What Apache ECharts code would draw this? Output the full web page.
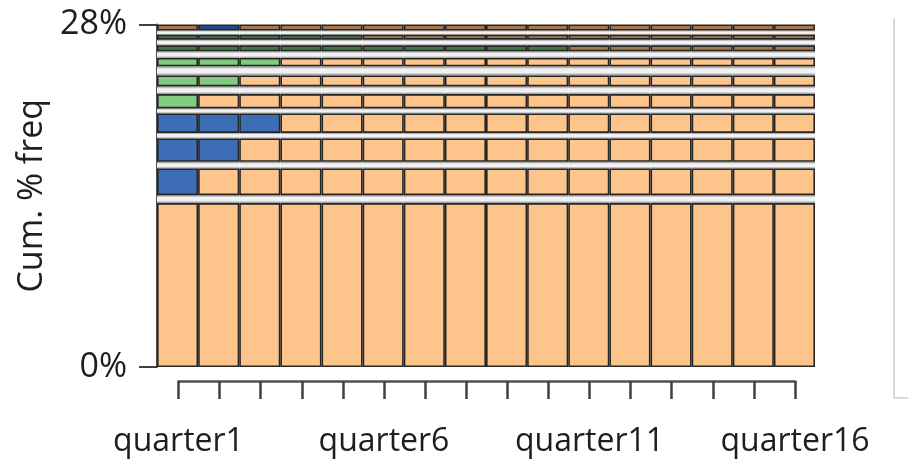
<!DOCTYPE html>
<html>
<head>
<meta charset="utf-8">
<script src="https://cdn.jsdelivr.net/npm/echarts@6/dist/echarts.min.js"></script>
<style>
  html, body { margin: 0; padding: 0; background: #fff; }
  #chart { width: 908px; height: 462px; }
</style>
</head>
<body>
<div id="chart"></div>
<script>
// ---- data ----
const quarters = Array.from({ length: 16 }, (_, i) => 'quarter' + (i + 1));
// height (in cum. % freq) of each level, bottom to top
const levelValues = [13.4, 2.18, 1.91, 1.59, 1.17, 0.9, 0.68, 0.49, 0.41, 0.5];
// separator band above each level (bottom to top)
const separatorValues = [0.65, 0.54, 0.46, 0.41, 0.63, 0.74, 0.55, 0.46, 0.33];
// class of each cell per level: o = orange, b = blue, g = light green, d = dark green, r = brown, n = navy
const levelClasses = [
  'oooooooooooooooo',
  'booooooooooooooo',
  'bboooooooooooooo',
  'bbbooooooooooooo',
  'gooooooooooooooo',
  'ggoooooooooooooo',
  'gggooooooooooooo',
  'ddddddddddrrrrrr',
  'dddddrrrrrrrrrrr',
  'rnrrrrrrrrrrrrrr'
];
const yTicks = [0, 28];

// ---- style ----
const classColors = {
  o: '#FDC48B',
  b: '#3D6DB5',
  g: '#80CB80',
  d: '#3F7B47',
  r: '#A8774E',
  n: '#1F4A86'
};
const sepColor = {
  type: 'linear', x: 0, y: 0, x2: 0, y2: 1,
  colorStops: [
    { offset: 0, color: '#8c8c8c' },
    { offset: 0.3, color: '#f2f2f2' },
    { offset: 0.7, color: '#f2f2f2' },
    { offset: 1, color: '#8c8c8c' }
  ]
};
const FONT = 'Open Sans';

const series = [];
levelValues.forEach((v, li) => {
  series.push({
    type: 'bar',
    stack: 'all',
    name: 'level' + (li + 1),
    z: 3,
    barCategoryGap: '0%',
    silent: true,
    data: quarters.map((q, qi) => ({
      value: v,
      itemStyle: { color: classColors[levelClasses[li][qi]] }
    })),
    itemStyle: { borderColor: '#262626', borderWidth: 1.6 }
  });
  if (li < separatorValues.length) {
    series.push({
      type: 'bar',
      stack: 'all',
      name: 'sep' + (li + 1),
      z: 2,
      barCategoryGap: '0%',
      silent: true,
      data: quarters.map(() => separatorValues[li]),
      itemStyle: { color: sepColor, borderWidth: 0 }
    });
  }
});

const chart = echarts.init(document.getElementById('chart'));
chart.setOption({
  animation: false,
  backgroundColor: '#ffffff',
  grid: [
    { left: 157, right: 93, top: 24.5, bottom: 95 },
    { left: 178.5, right: 113, top: 380, height: 1 }
  ],
  xAxis: [
    {
      type: 'category', gridIndex: 0, data: quarters,
      axisLine: { show: false }, axisTick: { show: false },
      axisLabel: { show: false }, splitLine: { show: false }
    },
    {
      type: 'category', gridIndex: 1, data: quarters, position: 'bottom',
      boundaryGap: false,
      axisLine: { show: true, lineStyle: { color: '#505050', width: 2.5 } },
      axisTick: { show: true, interval: 0, length: 18, lineStyle: { color: '#404040', width: 2.5 } },
      axisLabel: { interval: 4, margin: 45, fontFamily: FONT, fontSize: 32, color: '#1e1e1e' },
      splitLine: { show: false }
    }
  ],
  yAxis: [
    {
      type: 'value', gridIndex: 0, min: yTicks[0], max: yTicks[1], interval: 28,
      name: 'Cum. % freq', nameLocation: 'middle', nameGap: 97,
      nameTextStyle: { fontFamily: FONT, fontSize: 34, color: '#1e1e1e' },
      axisLine: { show: true, lineStyle: { color: '#505050', width: 2 } },
      axisTick: { show: true, length: 18, lineStyle: { color: '#404040', width: 2 } },
      axisLabel: { margin: 30, fontFamily: FONT, fontSize: 34, color: '#1e1e1e', formatter: '{value}%' },
      splitLine: { show: false }
    },
    { type: 'value', gridIndex: 1, show: false }
  ],
  series: series,
  graphic: [
    { type: 'line', shape: { x1: 894, y1: 18, x2: 894, y2: 398 }, style: { stroke: '#cccccc', lineWidth: 1.5 } },
    { type: 'line', shape: { x1: 894, y1: 398, x2: 908, y2: 398 }, style: { stroke: '#cccccc', lineWidth: 1.5 } }
  ]
});
</script>
</body>
</html>
